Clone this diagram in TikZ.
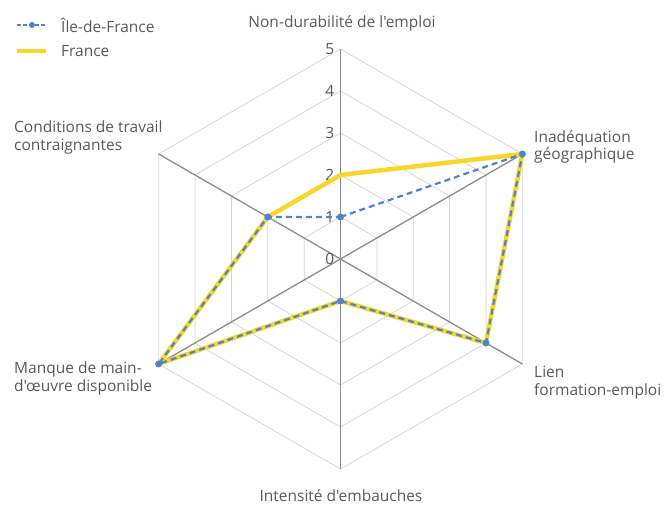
\documentclass[tikz,border=0pt]{standalone}
\usepackage{fontspec}
\setmainfont{Open Sans}[Ligatures=TeXOff]
\definecolor{idfblue}{RGB}{76,134,200}
\definecolor{frayellow}{RGB}{250,214,44}
\definecolor{labelgray}{RGB}{89,89,89}
\definecolor{axisgray}{RGB}{140,140,140}
\definecolor{gridgray}{RGB}{212,212,212}
\begin{document}
\begin{tikzpicture}[x=1pt, y=1pt]
\tikzset{catlabel/.style={text=labelgray, font=\fontsize{15.5}{17.5}\selectfont, inner sep=0pt}}
\tikzset{ticklabel/.style={text=labelgray, font=\fontsize{15.5}{17.5}\selectfont, inner sep=0pt, anchor=east}}
\tikzset{gridline/.style={draw=gridgray, line width=0.75pt}}
\tikzset{axisline/.style={draw=axisgray, line width=1.3pt}}
\tikzset{fraline/.style={draw=frayellow, line width=4.5pt, line join=round}}
\tikzset{idfline/.style={draw=idfblue, line width=2.2pt, dash pattern=on 6pt off 4pt, line join=round}}
\tikzset{idfmark/.style={shape=circle, minimum size=7pt, inner sep=0pt, fill=idfblue}}
\useasboundingbox (0,0) rectangle (664,505);
\begin{scope}[shift={(340.5,246)}]
% grid
\draw[gridline] (90:42) -- (30:42) -- (-30:42) -- (-90:42) -- (210:42) -- (150:42) -- cycle;
\draw[gridline] (90:84) -- (30:84) -- (-30:84) -- (-90:84) -- (210:84) -- (150:84) -- cycle;
\draw[gridline] (90:126) -- (30:126) -- (-30:126) -- (-90:126) -- (210:126) -- (150:126) -- cycle;
\draw[gridline] (90:168) -- (30:168) -- (-30:168) -- (-90:168) -- (210:168) -- (150:168) -- cycle;
\draw[gridline] (90:210) -- (30:210) -- (-30:210) -- (-90:210) -- (210:210) -- (150:210) -- cycle;
% axes
\coordinate (O) at (0,0);
\coordinate (a1) at (90:210);
\coordinate (a2) at (30:210);
\coordinate (a3) at (-30:210);
\coordinate (a4) at (-90:210);
\coordinate (a5) at (210:210);
\coordinate (a6) at (150:210);
\draw[axisline] (O) -- (a1);
\draw[axisline] (O) -- (a2);
\draw[axisline] (O) -- (a3);
\draw[axisline] (O) -- (a4);
\draw[axisline] (O) -- (a5);
\draw[axisline] (O) -- (a6);
% scale
\node (t0) [ticklabel] at (-6,0)   {0};
\node (t1) [ticklabel] at (-6,42)  {1};
\node (t2) [ticklabel] at (-6,84)  {2};
\node (t3) [ticklabel] at (-6,126) {3};
\node (t4) [ticklabel] at (-6,168) {4};
\node (t5) [ticklabel] at (-6,210) {5};
% France
\coordinate (f1) at (90:84);
\coordinate (f2) at (30:210);
\coordinate (f3) at (-30:168);
\coordinate (f4) at (-90:42);
\coordinate (f5) at (210:210);
\coordinate (f6) at (150:84);
\draw[fraline] (f1) -- (f2) -- (f3) -- (f4) -- (f5) -- (f6) -- cycle;
% Ile-de-France
\coordinate (i1) at (90:42);
\coordinate (i2) at (30:210);
\coordinate (i3) at (-30:168);
\coordinate (i4) at (-90:42);
\coordinate (i5) at (210:210);
\coordinate (i6) at (150:84);
\draw[idfline] (i1) -- (i2) -- (i3) -- (i4) -- (i5) -- (i6) -- cycle;
\node (m1) [idfmark] at (i1) {};
\node (m2) [idfmark] at (i2) {};
\node (m3) [idfmark] at (i3) {};
\node (m4) [idfmark] at (i4) {};
\node (m5) [idfmark] at (i5) {};
\node (m6) [idfmark] at (i6) {};
\end{scope}
% categories
\node (c1) [catlabel, anchor=base] at (342,477) {Non-durabilité de l'emploi};
\node (c2) [catlabel, anchor=north west, align=left] at (534,375) {Inadéquation\\géographique};
\node (c3) [catlabel, anchor=north west, align=left] at (534,139) {Lien\\formation-emploi};
\node (c4) [catlabel, anchor=base] at (341,3) {Intensité d'embauches};
\node (c5) [catlabel, anchor=north west, align=left] at (14,143) {Manque de main-\\d'œuvre disponible};
\node (c6) [catlabel, anchor=north west, align=left] at (14,384) {Conditions de travail\\contraignantes};
% legend
\coordinate (l1a) at (17,480);
\coordinate (l1b) at (47,480);
\coordinate (l1m) at (32,480);
\coordinate (l2a) at (17,454);
\coordinate (l2b) at (46,454);
\draw[idfline, line width=1.5pt, dash pattern=on 4pt off 2pt] (l1a) -- (l1b);
\node (lm) [idfmark, minimum size=6pt] at (l1m) {};
\draw[fraline] (l2a) -- (l2b);
\node (lt1) [catlabel, anchor=west] at (61,480) {Île-de-France};
\node (lt2) [catlabel, anchor=west] at (61,454) {France};
\end{tikzpicture}
\end{document}
